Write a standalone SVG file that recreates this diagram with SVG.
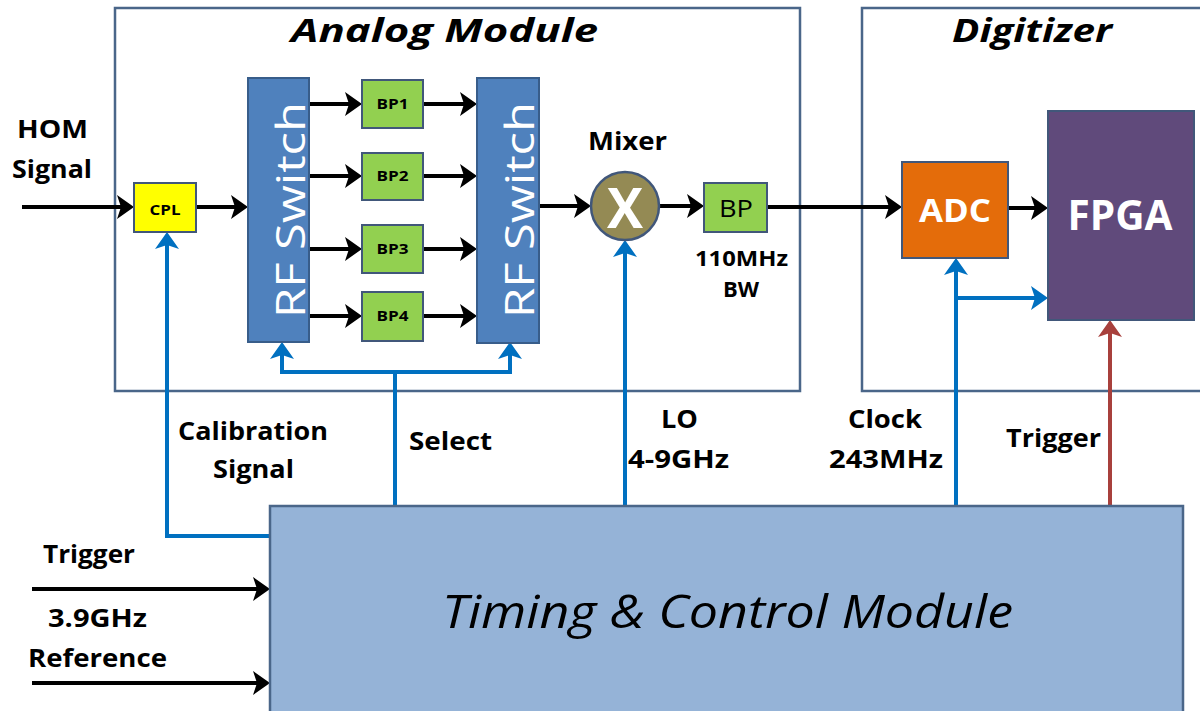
<svg xmlns="http://www.w3.org/2000/svg" width="1200" height="711" viewBox="0 0 1200 711">
<defs>
<style>
text{font-family:"Open Sans","Noto Sans","Liberation Sans",sans-serif;}
.b{font-weight:bold;}
.lbl{font-weight:bold;font-size:25px;fill:#000;}
.title{font-weight:bold;font-style:italic;font-size:32px;fill:#000;}
.cont{fill:#fff;stroke:#4a6689;stroke-width:2.5;}
.blk{fill:none;stroke:#000;stroke-width:4;}
.blu{fill:none;stroke:#0070c0;stroke-width:4;}
.red{fill:none;stroke:#a8403c;stroke-width:4;}
.rf{fill:#4f81bd;stroke:#385d8a;stroke-width:2;}
.bp{fill:#92d050;stroke:#41577a;stroke-width:2;}
.rft{fill:#fff;font-size:40px;}
.bpt{font-weight:bold;font-size:14px;fill:#000;}
</style>
<marker id="aK" viewBox="0 0 17 24" markerWidth="17" markerHeight="24" refX="9" refY="12" orient="auto" markerUnits="userSpaceOnUse"><path d="M0,0 L17,12 L0,24 L4,12 Z" fill="#000"/></marker>
<marker id="aB" viewBox="0 0 17 24" markerWidth="17" markerHeight="24" refX="9" refY="12" orient="auto" markerUnits="userSpaceOnUse"><path d="M0,0 L17,12 L0,24 L4,12 Z" fill="#0070c0"/></marker>
<marker id="aR" viewBox="0 0 17 24" markerWidth="17" markerHeight="24" refX="9" refY="12" orient="auto" markerUnits="userSpaceOnUse"><path d="M0,0 L17,12 L0,24 L4,12 Z" fill="#a8403c"/></marker>
</defs>
<rect width="1200" height="711" fill="#fff"/>

<g id="analog-module">
<rect class="cont" x="115" y="8" width="685" height="383"/>
<text class="title" x="291" y="42" textLength="307" lengthAdjust="spacingAndGlyphs">Analog Module</text>
</g>
<g id="digitizer">
<rect class="cont" x="862" y="8" width="360" height="383"/>
<text class="title" x="952" y="42" textLength="160" lengthAdjust="spacingAndGlyphs">Digitizer</text>
</g>

<g id="connectors">
<path class="blk" d="M22,207 H126" marker-end="url(#aK)"/>
<path class="blk" d="M196,207 H240" marker-end="url(#aK)"/>
<path class="blk" d="M310,104 H354" marker-end="url(#aK)"/>
<path class="blk" d="M310,176 H354" marker-end="url(#aK)"/>
<path class="blk" d="M310,249 H354" marker-end="url(#aK)"/>
<path class="blk" d="M310,316 H354" marker-end="url(#aK)"/>
<path class="blk" d="M423,104 H469" marker-end="url(#aK)"/>
<path class="blk" d="M423,176 H469" marker-end="url(#aK)"/>
<path class="blk" d="M423,249 H469" marker-end="url(#aK)"/>
<path class="blk" d="M423,316 H469" marker-end="url(#aK)"/>
<path class="blk" d="M539,206 H583" marker-end="url(#aK)"/>
<path class="blk" d="M660,206 H696" marker-end="url(#aK)"/>
<path class="blk" d="M767,207 H894" marker-end="url(#aK)"/>
<path class="blk" d="M1008,208 H1040" marker-end="url(#aK)"/>
<path class="blk" d="M32,589 H262" marker-end="url(#aK)"/>
<path class="blk" d="M32,683 H262" marker-end="url(#aK)"/>
<path class="blu" d="M272,536 H167 V240" marker-end="url(#aB)"/>
<path class="blu" d="M395,508 V372 H282 V350" marker-end="url(#aB)"/>
<path class="blu" d="M393,372 H510 V350" marker-end="url(#aB)"/>
<path class="blu" d="M625,508 V248" marker-end="url(#aB)"/>
<path class="blu" d="M956,508 V266" marker-end="url(#aB)"/>
<path class="blu" d="M956,298 H1040" marker-end="url(#aB)"/>
<path class="red" d="M1110,508 V328" marker-end="url(#aR)"/>
</g>

<g id="hom-label"><text class="lbl" x="17" y="138" textLength="71" lengthAdjust="spacingAndGlyphs">HOM</text><text class="lbl" x="12" y="178" textLength="80" lengthAdjust="spacingAndGlyphs">Signal</text></g>

<g id="cpl">
<rect x="134" y="183" width="62" height="49" fill="#ffff00" stroke="#41577a" stroke-width="2"/>
<text class="b" x="165" y="215" font-size="15" text-anchor="middle" textLength="31" lengthAdjust="spacingAndGlyphs">CPL</text>
</g>

<g id="rf-switch-1">
<rect class="rf" x="248" y="78" width="61" height="264"/>
<text class="rft" transform="translate(305,210) rotate(-90)" text-anchor="middle" textLength="216" lengthAdjust="spacingAndGlyphs">RF Switch</text>
</g>

<g id="bp1"><rect class="bp" x="362" y="80" width="61" height="48"/><text class="bpt" x="392.5" y="109" text-anchor="middle" textLength="32" lengthAdjust="spacingAndGlyphs">BP1</text></g>
<g id="bp2"><rect class="bp" x="362" y="153" width="61" height="47"/><text class="bpt" x="392.5" y="181" text-anchor="middle" textLength="32" lengthAdjust="spacingAndGlyphs">BP2</text></g>
<g id="bp3"><rect class="bp" x="362" y="225" width="61" height="48"/><text class="bpt" x="392.5" y="254" text-anchor="middle" textLength="32" lengthAdjust="spacingAndGlyphs">BP3</text></g>
<g id="bp4"><rect class="bp" x="362" y="292" width="61" height="49"/><text class="bpt" x="392.5" y="321" text-anchor="middle" textLength="32" lengthAdjust="spacingAndGlyphs">BP4</text></g>

<g id="rf-switch-2">
<rect class="rf" x="477" y="78" width="62" height="265"/>
<text class="rft" transform="translate(534,210) rotate(-90)" text-anchor="middle" textLength="216" lengthAdjust="spacingAndGlyphs">RF Switch</text>
</g>

<g id="mixer">
<text class="lbl" x="588" y="150" textLength="79" lengthAdjust="spacingAndGlyphs">Mixer</text>
<circle cx="625" cy="206" r="34" fill="#948a54" stroke="#41577a" stroke-width="2.5"/>
<text class="b" x="625" y="228" font-size="56" fill="#fff" text-anchor="middle" textLength="36" lengthAdjust="spacingAndGlyphs">X</text>
</g>

<g id="bp-out">
<rect class="bp" x="704" y="183" width="63" height="49"/>
<text x="736" y="217" font-size="24" text-anchor="middle" textLength="34" lengthAdjust="spacingAndGlyphs">BP</text>
<text class="b" x="695" y="266" font-size="22" textLength="93" lengthAdjust="spacingAndGlyphs">110MHz</text>
<text class="b" x="741" y="297" font-size="22" text-anchor="middle">BW</text>
</g>

<g id="adc">
<rect x="902" y="162" width="106" height="96" fill="#e46c0a" stroke="#41577a" stroke-width="2"/>
<text class="b" x="955" y="222" font-size="32" fill="#fff" text-anchor="middle" textLength="72" lengthAdjust="spacingAndGlyphs">ADC</text>
</g>

<g id="fpga">
<rect x="1048" y="111" width="146" height="209" fill="#604a7b" stroke="#41577a" stroke-width="2"/>
<text class="b" x="1120" y="230" font-size="42" fill="#fff" text-anchor="middle" textLength="105" lengthAdjust="spacingAndGlyphs">FPGA</text>
</g>

<g id="labels">
<text class="lbl" x="178" y="440" textLength="150" lengthAdjust="spacingAndGlyphs">Calibration</text>
<text class="lbl" x="213" y="478" textLength="81" lengthAdjust="spacingAndGlyphs">Signal</text>
<text class="lbl" x="409" y="450" textLength="83" lengthAdjust="spacingAndGlyphs">Select</text>
<text class="lbl" x="661" y="428" textLength="37" lengthAdjust="spacingAndGlyphs">LO</text>
<text class="lbl" x="628" y="468" textLength="101" lengthAdjust="spacingAndGlyphs">4-9GHz</text>
<text class="lbl" x="848" y="428" textLength="74" lengthAdjust="spacingAndGlyphs">Clock</text>
<text class="lbl" x="829" y="468" textLength="114" lengthAdjust="spacingAndGlyphs">243MHz</text>
<text class="lbl" x="1006" y="447" textLength="95" lengthAdjust="spacingAndGlyphs">Trigger</text>
<text class="lbl" x="43" y="563" textLength="92" lengthAdjust="spacingAndGlyphs">Trigger</text>
<text class="lbl" x="48" y="627" textLength="99" lengthAdjust="spacingAndGlyphs">3.9GHz</text>
<text class="lbl" x="28" y="667" textLength="139" lengthAdjust="spacingAndGlyphs">Reference</text>
</g>

<g id="timing-control-module">
<rect x="270" y="506" width="913" height="220" fill="#95b3d7" stroke="#4a6689" stroke-width="2.5"/>
<text x="442" y="628" font-size="46" font-style="italic" textLength="571" lengthAdjust="spacingAndGlyphs">Timing &amp; Control Module</text>
</g>
</svg>
